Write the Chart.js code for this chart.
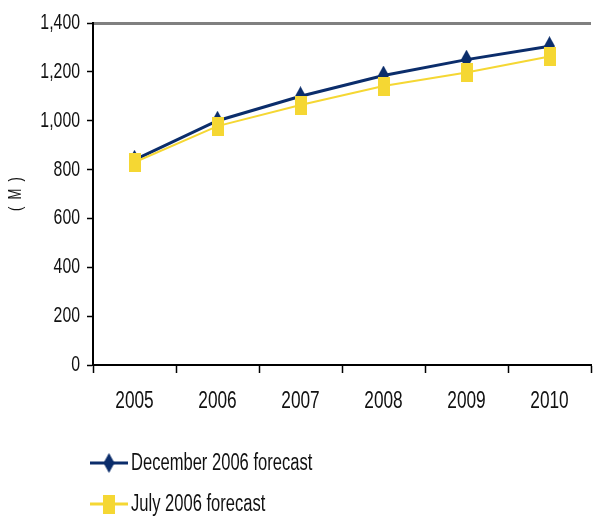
<!DOCTYPE html>
<html>
<head>
<meta charset="utf-8">
<script src="https://cdn.jsdelivr.net/npm/chart.js@4.4.0/dist/chart.umd.min.js"></script>
<style>
  html, body { margin: 0; padding: 0; background: #fff; }
  #wrap { width: 598px; height: 517px; }
</style>
</head>
<body>
<div id="wrap"><canvas id="forecastChart"></canvas></div>
<script>
const years = ['2005', '2006', '2007', '2008', '2009', '2010']
const decForecast = [840, 1000, 1100, 1185, 1250, 1305]
const julForecast = [830, 978, 1064, 1142, 1197, 1263]
const yTicks = [0, 200, 400, 600, 800, 1000, 1200, 1400]
const seriesNames = ['December 2006 forecast', 'July 2006 forecast']

const NAVY = '#0b2d6b'
const YELLOW = '#f5d733'
const FONT = "'Liberation Sans', Arial, sans-serif"
const NARROW = 0.72 // the source uses a condensed face, squeeze text horizontally

// tall markers, the picture looks stretched vertically
function makeDiamond(w, h, color){
    const c = document.createElement('canvas')
    c.width = w; c.height = h
    const g = c.getContext('2d')
    g.fillStyle = color
    g.beginPath()
    g.moveTo(w / 2, 0); g.lineTo(w, h / 2); g.lineTo(w / 2, h); g.lineTo(0, h / 2)
    g.closePath(); g.fill()
    return c
}
function makeRect(w, h, color){
    const c = document.createElement('canvas')
    c.width = w; c.height = h
    const g = c.getContext('2d')
    g.fillStyle = color
    g.fillRect(0, 0, w, h)
    return c
}
const diamond = makeDiamond(11, 20, NAVY)
const square = makeRect(12, 19, YELLOW)

// condensed text: wrap fillText of the chart's context
const canvas = document.getElementById('forecastChart')
const c2d = canvas.getContext('2d')
const plainFillText = c2d.fillText.bind(c2d)
c2d.fillText = function(text, x, y, maxWidth){
    this.save()
    this.translate(x, y)
    this.scale(NARROW, 1)
    if (maxWidth !== undefined) plainFillText(text, 0, 0, maxWidth / NARROW)
    else plainFillText(text, 0, 0)
    this.restore()
}

// legend drawn under the axis, one item per row
const stackedLegend = {
    id: 'stackedLegend',
    afterDraw(chart){
        const ctx = chart.ctx
        const rows = [463, 504]
        ctx.save()
        chart.data.datasets.forEach((ds, i) => {
            const y = rows[i]
            ctx.strokeStyle = ds.borderColor
            ctx.lineWidth = 3
            ctx.beginPath(); ctx.moveTo(90, y); ctx.lineTo(128, y); ctx.stroke()
            ctx.drawImage(ds.pointStyle, 109 - ds.pointStyle.width / 2, y - ds.pointStyle.height / 2)
            ctx.fillStyle = '#111'
            ctx.font = '23px ' + FONT
            ctx.textAlign = 'left'
            ctx.textBaseline = 'middle'
            ctx.fillText(ds.label, 131, y + 1)
        })
        ctx.restore()
    }
}

const data = {
    labels: years,
    datasets: [
        {
            label: seriesNames[0],
            data: decForecast,
            borderColor: NAVY,
            backgroundColor: NAVY,
            borderWidth: 3,
            pointStyle: diamond,
            order: 1,
            tension: 0
        },
        {
            label: seriesNames[1],
            data: julForecast,
            borderColor: YELLOW,
            backgroundColor: YELLOW,
            borderWidth: 2,
            pointStyle: square,
            order: 0,
            tension: 0
        }
    ]
}

const config = {
    type: 'line',
    data,
    options: {
        responsive: true,
        maintainAspectRatio: false,
        animation: false,
        layout: { padding: { top: 23, left: 0, right: 0, bottom: 0 } },
        plugins: {
            legend: { display: false },
            tooltip: { enabled: false }
        },
        scales: {
            x: {
                offset: true,
                grid: {
                    offset: true,
                    drawOnChartArea: false,
                    tickLength: 8,
                    tickColor: '#000',
                    tickWidth: 1.5
                },
                border: { color: '#000', width: 2 },
                ticks: {
                    color: '#111',
                    padding: 14,
                    font: { family: FONT, size: 24 }
                },
                afterFit(scale){ scale.height = 152 }
            },
            y: {
                min: 0,
                max: 1400,
                afterBuildTicks(scale){ scale.ticks = yTicks.map(v => ({ value: v })) },
                grid: {
                    drawOnChartArea: true,
                    color: ctx => ctx.tick && ctx.tick.value === 1400 ? '#808080' : 'rgba(0,0,0,0)',
                    lineWidth: ctx => ctx.tick && ctx.tick.value === 1400 ? 3 : 1,
                    tickColor: '#000',
                    tickLength: 6,
                    tickWidth: 1.5
                },
                border: { color: '#000', width: 2 },
                ticks: {
                    color: '#111',
                    padding: 7,
                    font: { family: FONT, size: 22 },
                    callback: v => v.toLocaleString('en-US')
                },
                title: {
                    display: true,
                    text: '(  M  )',
                    color: '#111',
                    font: { family: FONT, size: 18 },
                    padding: { top: 5, bottom: 0 }
                },
                afterFit(scale){ scale.width = 93 }
            }
        }
    },
    plugins: [stackedLegend]
}

const forecastChart = new Chart(canvas, config)
</script>
</body>
</html>
